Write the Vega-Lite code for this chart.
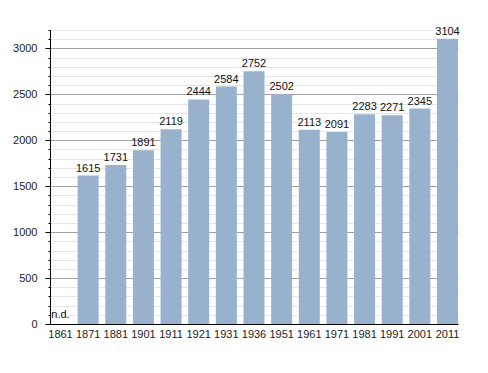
{
  "$schema": "https://vega.github.io/schema/vega-lite/v6.json",
  "autosize": {"type": "none"},
  "width": 408,
  "height": 294,
  "padding": {"left": 50, "top": 30, "right": 30, "bottom": 49},
  "background": "white",
  "config": {
    "view": {"stroke": null},
    "font": "Liberation Sans",
    "axis": {"labelFont": "Liberation Sans", "labelFontSize": 11, "labelColor": "#222"}
  },
  "data": {
    "values": [
      {"year": "1861", "pop": null, "label": "n.d."},
      {"year": "1871", "pop": 1615, "label": "1615"},
      {"year": "1881", "pop": 1731, "label": "1731"},
      {"year": "1901", "pop": 1891, "label": "1891"},
      {"year": "1911", "pop": 2119, "label": "2119"},
      {"year": "1921", "pop": 2444, "label": "2444"},
      {"year": "1931", "pop": 2584, "label": "2584"},
      {"year": "1936", "pop": 2752, "label": "2752"},
      {"year": "1951", "pop": 2502, "label": "2502"},
      {"year": "1961", "pop": 2113, "label": "2113"},
      {"year": "1971", "pop": 2091, "label": "2091"},
      {"year": "1981", "pop": 2283, "label": "2283"},
      {"year": "1991", "pop": 2271, "label": "2271"},
      {"year": "2001", "pop": 2345, "label": "2345"},
      {"year": "2011", "pop": 3104, "label": "3104"}
    ]
  },
  "encoding": {
    "x": {
      "field": "year", "type": "ordinal",
      "sort": ["1861","1871","1881","1901","1911","1921","1931","1936","1951","1961","1971","1981","1991","2001","2011"],
      "scale": {"paddingInner": 0.24, "paddingOuter": 0},
      "axis": {"title": null, "labelAngle": 0, "ticks": false, "labelPadding": 4, "domainColor": "#000", "grid": false}
    },
    "y": {
      "field": "pop", "type": "quantitative",
      "scale": {"domain": [0, 3200], "nice": false},
      "axis": {
        "title": null,
        "values": [0,100,200,300,400,500,600,700,800,900,1000,1100,1200,1300,1400,1500,1600,1700,1800,1900,2000,2100,2200,2300,2400,2500,2600,2700,2800,2900,3000,3100,3200],
        "format": "d",
        "labelOverlap": false,
        "labelExpr": "datum.value % 500 === 0 ? datum.label : ''",
        "domainColor": "#000",
        "tickColor": "#000",
        "tickSize": {"condition": {"test": "datum.value % 500 === 0", "value": 5}, "value": 2},
        "labelPadding": 8,
        "grid": true,
        "gridColor": {"condition": {"test": "datum.value % 500 === 0", "value": "#a0a0a0"}, "value": "#e6e6e6"},
        "gridWidth": 1
      }
    }
  },
  "layer": [
    {
      "mark": {"type": "bar", "color": "#98b2cd"}
    },
    {
      "mark": {"type": "text", "baseline": "alphabetic", "dy": -4, "fontSize": 11, "color": "#111"},
      "encoding": {
        "text": {"field": "label"}
      }
    },
    {
      "data": {"values": [{"year": "1861", "pop": 0, "label": "n.d."}]},
      "mark": {"type": "text", "baseline": "alphabetic", "dy": -6, "fontSize": 11, "color": "#111"},
      "encoding": {
        "text": {"field": "label"}
      }
    }
  ]
}
